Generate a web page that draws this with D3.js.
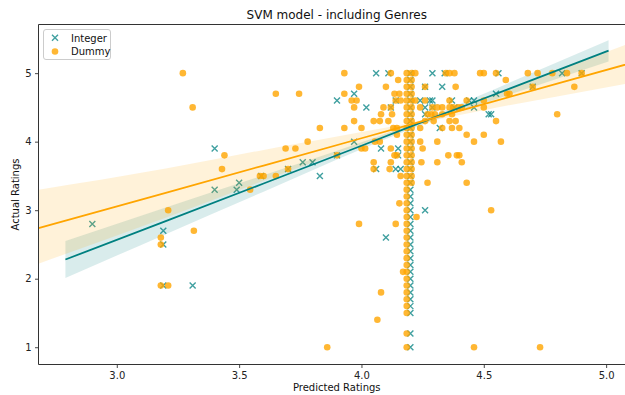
<!DOCTYPE html>
<html>
<head>
<meta charset="utf-8">
<script src="https://cdn.jsdelivr.net/npm/d3@7"></script>
<style>
  html, body { margin: 0; padding: 0; background: #fff; }
  svg { display: block; font-family: "DejaVu Sans", sans-serif; }
</style>
</head>
<body>
<svg id="chart" width="625" height="395"></svg>
<script>
// ---- Data -------------------------------------------------------------
const seriesNames = ["Integer", "Dummy"];
const xTicks = [3.0, 3.5, 4.0, 4.5, 5.0];
const yTicks = [1, 2, 3, 4, 5];

// Integer encoding: scattered predictions
const intPred = [2.90, 3.19, 3.19, 3.19, 3.31, 3.40, 3.40, 3.49, 3.50, 3.59, 3.70, 3.76, 3.80, 3.83,
  3.90, 3.90, 3.97, 3.97, 4.02, 4.06, 4.11, 4.29, 4.34, 4.56, 4.82, 4.90,
  4.26, 4.33, 4.70, 4.55, 4.46, 4.14, 4.24, 4.28, 4.29, 4.37, 4.44,
  4.12, 4.26, 4.29, 4.38, 4.46, 4.26, 4.53, 4.52, 4.32, 4.08, 4.15, 4.15,
  4.06, 4.14, 4.16, 4.26, 4.10];
const intActual = [2.8, 2.7, 2.5, 1.9, 1.9, 3.9, 3.3, 3.3, 3.4, 3.5, 3.6, 3.7, 3.7, 3.5,
  3.8, 4.6, 4.7, 4.0, 4.5, 5.0, 5.0, 5.0, 5.0, 5.0, 5.0, 5.0,
  4.8, 4.8, 4.8, 4.7, 4.6, 4.6, 4.6, 4.6, 4.6, 4.6, 4.6,
  4.5, 4.5, 4.5, 4.5, 4.5, 4.4, 4.4, 4.4, 4.2, 3.9, 3.9, 3.8,
  3.6, 3.6, 3.6, 3.0, 2.6];
// Integer encoding: the stack of predictions at 4.2
const intColPred = 4.2;
const intColActual = [1.0, 1.2, 1.5, 1.6, 1.7, 1.8, 1.9, 2.0, 2.1, 2.2, 2.3, 2.4, 2.5, 2.6, 2.7, 2.8, 2.9,
  3.0, 3.1, 3.2, 3.3, 3.4, 3.5, 3.6, 3.7, 3.8, 3.9, 4.0, 4.1, 4.2, 4.3, 4.4, 4.5, 4.6, 4.7, 4.8, 4.9, 5.0];

// Dummy encoding: scattered predictions
const dumPred = [3.18, 3.18, 3.21, 3.315, 3.18, 3.21, 3.27, 3.31, 3.44, 3.43, 3.545, 3.585, 3.60, 3.65,
  3.65, 3.745, 3.69, 3.73, 3.70, 3.78, 3.83, 3.90, 3.93, 3.93, 3.99, 3.96, 3.98, 3.97, 3.97, 3.93,
  4.00, 4.00, 4.015, 3.99, 3.86,
  4.12, 4.22, 4.345, 4.36, 4.38, 4.485, 4.50, 4.55, 4.68, 4.72, 4.78, 4.84, 4.90,
  4.15, 4.59,
  4.10, 4.26, 4.385, 4.70, 4.87,
  4.135, 4.155, 4.595, 4.605,
  4.14, 4.16, 4.22, 4.26, 4.36, 4.43, 4.50,
  4.09, 4.12, 4.24, 4.29, 4.31, 4.33, 4.36, 4.375, 4.395, 4.41, 4.50,
  4.08, 4.125, 4.27, 4.285, 4.30, 4.33, 4.37, 4.80,
  4.05, 4.075, 4.11, 4.26, 4.295, 4.36, 4.385, 4.55,
  4.13, 4.145, 4.24, 4.33, 4.37, 4.40,
  4.145, 4.43, 4.50,
  4.055, 4.075, 4.24, 4.31, 4.46, 4.57,
  4.12, 4.25,
  4.135, 4.145, 4.355, 4.39, 4.40,
  4.05, 4.12, 4.245, 4.31, 4.41,
  4.05, 4.115,
  4.16,
  4.27, 4.43,
  4.155, 4.53, 4.225, 4.14, 4.17, 4.08, 4.065, 4.46, 4.73];
const dumActual = [2.6, 2.5, 3.0, 2.7, 1.9, 1.9, 5.0, 4.5, 3.8, 3.6, 3.3, 3.5, 3.5, 3.5,
  4.7, 4.7, 3.9, 3.9, 3.6, 4.0, 4.2, 3.8, 5.0, 4.7, 4.8, 4.6, 4.6, 4.5, 4.3, 4.2,
  4.2, 3.9, 3.9, 2.8, 1.0,
  5.0, 5.0, 5.0, 5.0, 5.0, 5.0, 5.0, 5.0, 5.0, 5.0, 5.0, 5.0, 5.0,
  4.9, 4.9,
  4.8, 4.8, 4.8, 4.8, 4.8,
  4.7, 4.7, 4.7, 4.7,
  4.6, 4.6, 4.6, 4.6, 4.6, 4.6, 4.6,
  4.5, 4.5, 4.5, 4.5, 4.5, 4.5, 4.5, 4.5, 4.5, 4.5, 4.5,
  4.4, 4.4, 4.4, 4.4, 4.4, 4.4, 4.4, 4.4,
  4.3, 4.3, 4.3, 4.3, 4.3, 4.3, 4.3, 4.3,
  4.2, 4.2, 4.2, 4.2, 4.2, 4.2,
  4.1, 4.1, 4.1,
  4.0, 4.0, 4.0, 4.0, 4.0, 4.0,
  3.9, 3.9,
  3.8, 3.8, 3.8, 3.8, 3.8,
  3.7, 3.7, 3.7, 3.7, 3.7,
  3.6, 3.6,
  3.5,
  3.4, 3.4,
  3.1, 3.0, 2.9, 2.8, 2.1, 1.8, 1.4, 1.0, 1.0];
// Dummy encoding: the stack of predictions near 4.19
const dumColPred = 4.185;
const dumColActual = [1.0, 1.2, 1.5, 1.6, 1.7, 1.8, 1.9, 2.0, 2.1, 2.2, 2.3, 2.4, 2.5, 2.6, 2.7, 2.8, 2.9,
  3.0, 3.1, 3.2, 3.3, 3.4, 3.5, 3.6, 3.7, 3.8, 3.9, 4.0, 4.1, 4.2, 4.3, 4.4, 4.5, 4.6, 4.7, 4.8, 4.9, 5.0];
const dumCol2Pred = 4.205;
const dumCol2Actual = [3.4, 3.5, 3.6, 3.7, 3.8, 3.9, 4.0, 4.1, 4.2, 4.3, 4.4, 4.5, 4.6, 4.7, 4.8, 4.9, 5.0];

// Regression fits with 95% confidence bands
const intFitX  = [2.79, 3.2, 3.6, 4.0, 4.25, 4.5, 4.8, 5.01];
const intFitY  = [2.28, 2.84, 3.39, 3.94, 4.29, 4.63, 5.04, 5.33];
const intFitLo = [2.01, 2.65, 3.27, 3.89, 4.25, 4.56, 4.92, 5.17];
const intFitHi = [2.55, 3.04, 3.51, 3.99, 4.32, 4.70, 5.16, 5.48];

const dumFitX  = [2.68, 3.2, 3.6, 4.0, 4.25, 4.5, 4.8, 5.12];
const dumFitY  = [2.737, 3.254, 3.652, 4.050, 4.299, 4.548, 4.846, 5.165];
const dumFitLo = [2.22, 2.89, 3.43, 3.96, 4.27, 4.46, 4.66, 4.87];
const dumFitHi = [3.30, 3.61, 3.88, 4.14, 4.32, 4.64, 5.04, 5.47];

// ---- Layout -----------------------------------------------------------
const TEAL = "#008080", ORANGE = "#FFA500";
const plot = { left: 38.5, right: 635, top: 24.5, bottom: 364.5 };
const W = 625, H = 395;

const svg = d3.select("#chart");
const x = d3.scaleLinear().domain([2.68, 5.118]).range([plot.left, plot.right]);
const y = d3.scaleLinear().domain([0.748, 5.71]).range([plot.bottom, plot.top]);

svg.append("defs").append("clipPath").attr("id", "plotClip")
  .append("rect").attr("x", plot.left).attr("y", plot.top)
  .attr("width", plot.right - plot.left).attr("height", plot.bottom - plot.top);

const g = svg.append("g").attr("clip-path", "url(#plotClip)");

const intPts = intPred.map((p, i) => [p, intActual[i]])
  .concat(intColActual.map(a => [intColPred, a]));
const dumPts = dumPred.map((p, i) => [p, dumActual[i]])
  .concat(dumColActual.map(a => [dumColPred, a]))
  .concat(dumCol2Actual.map(a => [dumCol2Pred, a]));

const band = (xs, lo, hi) => d3.area()
  .x((d, i) => x(xs[i])).y0((d, i) => y(lo[i])).y1((d, i) => y(hi[i]))
  .curve(d3.curveMonotoneX)(xs);
const fitLine = (xs, ys) => d3.line()
  .x((d, i) => x(xs[i])).y((d, i) => y(ys[i]))(xs);

// Integer points (x markers)
const xm = 3;
g.append("g").selectAll("path").data(intPts).join("path")
  .attr("d", d => {
    const cx = x(d[0]), cy = y(d[1]);
    return `M${cx - xm},${cy - xm}L${cx + xm},${cy + xm}M${cx - xm},${cy + xm}L${cx + xm},${cy - xm}`;
  })
  .attr("stroke", TEAL).attr("stroke-width", 1.4).attr("fill", "none").attr("opacity", 0.75);

// Integer band
g.append("path").attr("d", band(intFitX, intFitLo, intFitHi))
  .attr("fill", TEAL).attr("opacity", 0.15);

// Dummy points (circles)
g.append("g").selectAll("circle").data(dumPts).join("circle")
  .attr("cx", d => x(d[0])).attr("cy", d => y(d[1])).attr("r", 3.3)
  .attr("fill", ORANGE).attr("opacity", 0.8);

// Dummy band
g.append("path").attr("d", band(dumFitX, dumFitLo, dumFitHi))
  .attr("fill", ORANGE).attr("opacity", 0.15);

// Fit lines
g.append("path").attr("d", fitLine(intFitX, intFitY))
  .attr("stroke", TEAL).attr("stroke-width", 1.8).attr("fill", "none");
g.append("path").attr("d", fitLine(dumFitX, dumFitY))
  .attr("stroke", ORANGE).attr("stroke-width", 1.8).attr("fill", "none");

// ---- Axes -------------------------------------------------------------
const axisColor = "#333";
const xAxis = svg.append("g").attr("transform", `translate(0,${plot.bottom})`)
  .call(d3.axisBottom(x).tickValues(xTicks).tickFormat(d3.format(".1f")).tickSize(3.5).tickPadding(3.5));
const yAxis = svg.append("g").attr("transform", `translate(${plot.left},0)`)
  .call(d3.axisLeft(y).tickValues(yTicks).tickFormat(d3.format("d")).tickSize(3.5).tickPadding(3.5));
[xAxis, yAxis].forEach(a => {
  a.select(".domain").remove();
  a.selectAll(".tick line").attr("stroke", axisColor).attr("stroke-width", 0.9);
  a.selectAll(".tick text").attr("fill", "#222").attr("font-size", 10)
    .attr("font-family", "DejaVu Sans, sans-serif");
});

// Spines (left, top, bottom; right edge lies past the canvas)
svg.append("path")
  .attr("d", `M${plot.right},${plot.top}H${plot.left}V${plot.bottom}H${plot.right}`)
  .attr("fill", "none").attr("stroke", axisColor).attr("stroke-width", 1);

// ---- Text -------------------------------------------------------------
const midX = (plot.left + plot.right) / 2;
svg.append("text").attr("x", midX).attr("y", 19).attr("text-anchor", "middle")
  .attr("font-size", 12).attr("fill", "#111").text("SVM model - including Genres");
svg.append("text").attr("x", midX).attr("y", 391).attr("text-anchor", "middle")
  .attr("font-size", 10).attr("fill", "#111").text("Predicted Ratings");
svg.append("text")
  .attr("transform", `translate(19,${(plot.top + plot.bottom) / 2}) rotate(-90)`)
  .attr("text-anchor", "middle").attr("font-size", 10).attr("fill", "#111").text("Actual Ratings");

// ---- Legend -----------------------------------------------------------
const lg = svg.append("g").attr("transform", "translate(43.5,29.5)");
lg.append("rect").attr("width", 67).attr("height", 30).attr("rx", 2.5)
  .attr("fill", "#fff").attr("fill-opacity", 0.8).attr("stroke", "#ccc").attr("stroke-width", 1);
const lx = 11.5;
lg.append("path")
  .attr("d", `M${lx - xm},${8.3 - xm}L${lx + xm},${8.3 + xm}M${lx - xm},${8.3 + xm}L${lx + xm},${8.3 - xm}`)
  .attr("stroke", TEAL).attr("stroke-width", 1.4).attr("opacity", 0.75);
lg.append("circle").attr("cx", lx).attr("cy", 22).attr("r", 3.3)
  .attr("fill", ORANGE).attr("opacity", 0.8);
lg.selectAll("text.lbl").data(seriesNames).join("text").attr("class", "lbl")
  .attr("x", 27.5).attr("y", (d, i) => 12 + i * 13.6)
  .attr("font-size", 10).attr("fill", "#111").text(d => d);
</script>
</body>
</html>
